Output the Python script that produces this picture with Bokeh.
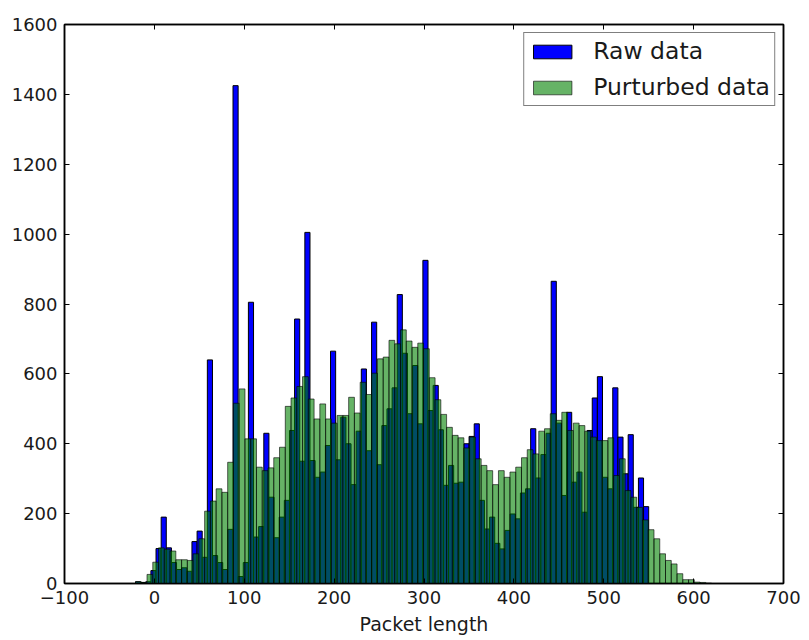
import numpy as np
from bokeh.plotting import figure
from bokeh.models import (Range1d, LinearAxis, FixedTicker, CustomJSTickFormatter,
                          Legend, LegendItem)
from bokeh.embed import file_html
from bokeh.resources import INLINE

# ---- data (histogram counts) ----
raw_counts = [5, 3, 5, 37, 100, 190, 102, 60, 40, 45,
              35, 120, 150, 75, 640, 80, 60, 40, 155, 1425,
              20, 60, 805, 133, 163, 430, 247, 131, 190, 238,
              438, 757, 350, 1005, 352, 304, 319, 395, 665, 354,
              476, 400, 283, 436, 614, 380, 748, 340, 452, 500,
              560, 827, 659, 486, 624, 457, 925, 495, 567, 440,
              281, 338, 287, 290, 400, 421, 457, 238, 156, 190,
              115, 99, 152, 199, 185, 259, 271, 443, 302, 369,
              430, 865, 459, 252, 490, 290, 319, 204, 438, 531,
              592, 304, 271, 560, 419, 314, 426, 218, 302, 220]
perturbed_counts = [5, 3, 26, 61, 102, 98, 93, 68, 68, 66,
                    85, 128, 207, 236, 271, 261, 347, 516, 557, 414,
                    414, 333, 323, 331, 360, 390, 507, 531, 564, 592,
                    528, 471, 514, 471, 459, 481, 481, 533, 488, 576,
                    541, 602, 643, 648, 696, 686, 726, 694, 676, 688,
                    672, 589, 526, 484, 447, 424, 417, 388, 419, 357,
                    338, 323, 283, 323, 304, 319, 333, 360, 383, 371,
                    436, 443, 486, 467, 490, 438, 459, 452, 436, 419,
                    409, 409, 417, 309, 357, 266, 247, 218, 182, 154,
                    128, 85, 66, 56, 28, 11, 11, 4, 3, 1]
raw_range = (-21.0, 550.0)
perturbed_range = (-21.0, 620.0)
series_labels = ["Raw data", "Purturbed data"]
x_ticks = [-100, 0, 100, 200, 300, 400, 500, 600, 700]
y_ticks = [0, 200, 400, 600, 800, 1000, 1200, 1400, 1600]
x_label = "Packet length"

raw_edges = np.linspace(raw_range[0], raw_range[1], len(raw_counts) + 1)
pert_edges = np.linspace(perturbed_range[0], perturbed_range[1], len(perturbed_counts) + 1)

FONT = "DejaVu Sans"

p = figure(width=809, height=640, output_backend="svg", toolbar_location=None,
           x_range=Range1d(-100, 700), y_range=Range1d(0, 1600),
           min_border_left=64, min_border_right=26, min_border_top=24, min_border_bottom=57)
p.background_fill_color = "white"
p.border_fill_color = "white"
p.xgrid.visible = False
p.ygrid.visible = False
p.outline_line_color = "black"
p.outline_line_width = 1.5

r_raw = p.quad(left=raw_edges[:-1], right=raw_edges[1:], bottom=0, top=raw_counts,
               fill_color="#0000ff", line_color="black", line_width=1)
r_pert = p.quad(left=pert_edges[:-1], right=pert_edges[1:], bottom=0, top=perturbed_counts,
                fill_color="#008000", fill_alpha=0.6, line_color="black", line_alpha=0.6,
                line_width=1)

def style_axis(ax, ticks, show_labels):
    ax.ticker = FixedTicker(ticks=ticks)
    ax.major_tick_in = 5
    ax.major_tick_out = 0
    ax.minor_tick_in = 0
    ax.minor_tick_out = 0
    ax.axis_line_color = "black"
    ax.axis_line_width = 1.5
    ax.major_tick_line_color = "black"
    ax.major_tick_line_width = 1
    if show_labels:
        ax.major_label_text_font = FONT
        ax.major_label_text_font_size = "18px"
        ax.major_label_text_color = "#1a1a1a"
        ax.major_label_standoff = 7
    else:
        ax.formatter = CustomJSTickFormatter(code="return ''")
        ax.major_label_standoff = 0

style_axis(p.xaxis[0], x_ticks, True)
style_axis(p.yaxis[0], y_ticks, True)
p.xaxis[0].major_label_overrides = {-100: "\u2212100"}
p.xaxis[0].axis_label = x_label
p.xaxis[0].axis_label_text_font = FONT
p.xaxis[0].axis_label_text_font_size = "19px"
p.xaxis[0].axis_label_text_font_style = "normal"
p.xaxis[0].axis_label_text_color = "#1a1a1a"
p.xaxis[0].axis_label_standoff = 6

top_axis = LinearAxis()
style_axis(top_axis, x_ticks, False)
p.add_layout(top_axis, "above")
right_axis = LinearAxis()
style_axis(right_axis, y_ticks, False)
p.add_layout(right_axis, "right")

legend = Legend(items=[LegendItem(label=series_labels[0], renderers=[r_raw]),
                       LegendItem(label=series_labels[1], renderers=[r_pert])],
                location="top_right")
legend.label_text_font = FONT
legend.label_text_font_size = "23.5px"
legend.label_text_color = "#1a1a1a"
legend.glyph_width = 48
legend.glyph_height = 17
legend.label_standoff = 17
legend.label_height = 24
legend.spacing = 8
legend.padding = 4
legend.margin = 8
legend.border_line_color = "black"
legend.border_line_width = 1.5
legend.background_fill_color = "white"
legend.background_fill_alpha = 1.0
p.add_layout(legend)

open("out.html", "w").write(file_html(p, INLINE))
